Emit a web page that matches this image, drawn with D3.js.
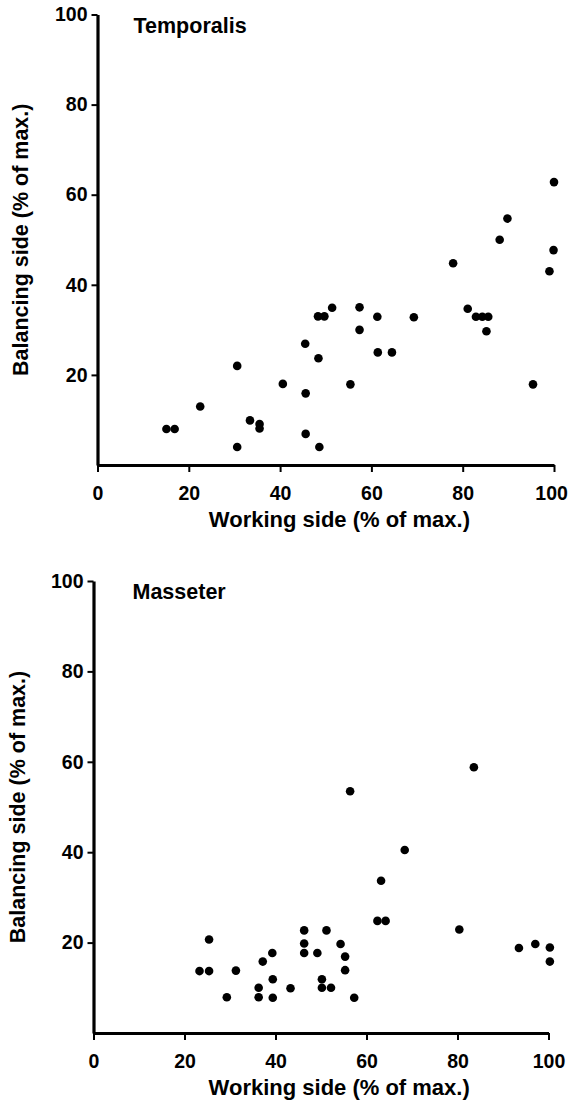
<!DOCTYPE html>
<html>
<head>
<meta charset="utf-8">
<script src="https://cdn.jsdelivr.net/npm/d3@7"></script>
<style>
  html, body { margin: 0; padding: 0; background: #fff; }
  svg text { font-family: 'Liberation Sans', Arial, sans-serif; font-weight: bold; fill: #000; }
</style>
</head>
<body>
<div id="chart"></div>
<script>
// values (% of max.)
const temporalisWorking = [15.1, 16.9, 22.5, 30.6, 30.6, 33.4, 35.5, 35.5, 40.6, 45.5, 45.6, 45.6,
  48.4, 48.6, 48.3, 49.7, 51.4, 55.4, 57.4, 57.4, 61.3, 61.4, 64.5, 69.3, 77.9, 81.1, 82.9, 84.3,
  85.6, 85.2, 88.1, 89.8, 95.4, 99.0, 99.9, 100.0]
const temporalisBalancing = [8.0, 8.0, 13.0, 22.0, 4.0, 9.9, 9.1, 8.1, 18.0, 26.9, 15.9, 6.9,
  23.7, 4.0, 33.0, 33.0, 34.9, 17.9, 35.0, 30.0, 32.9, 25.0, 25.0, 32.8, 44.8, 34.7, 32.9, 32.9,
  32.9, 29.7, 50.0, 54.7, 17.9, 43.0, 47.7, 62.8]

const masseterWorking = [23.3, 25.4, 25.4, 29.3, 31.3, 36.3, 36.3, 37.2, 39.3, 39.4, 39.4, 43.3,
  46.3, 46.3, 46.3, 49.2, 50.2, 50.2, 52.2, 51.2, 54.3, 55.3, 55.3, 57.3, 56.4, 62.4, 64.2, 63.2,
  68.4, 80.4, 83.6, 93.5, 97.1, 100.3, 100.3]
const masseterBalancing = [13.7, 13.7, 20.7, 7.9, 13.8, 10.0, 7.9, 15.8, 17.7, 11.9, 7.8, 9.9,
  22.7, 19.8, 17.7, 17.7, 11.9, 10.0, 10.0, 22.7, 19.7, 16.9, 13.9, 7.8, 53.5, 24.8, 24.8, 33.7,
  40.5, 22.9, 58.8, 18.8, 19.7, 18.9, 15.8]

const xTicks = [0, 20, 40, 60, 80, 100]
const yTicks = [20, 40, 60, 80, 100]

const panels = [
  { title: 'Temporalis', xs: temporalisWorking, ys: temporalisBalancing,
    left: 97.5, right: 554, top: 14.5, bottom: 465, yLabelX: 20, titleDx: 36, xLabelAt: 53 },
  { title: 'Masseter', xs: masseterWorking, ys: masseterBalancing,
    left: 93.5, right: 548.5, top: 581, bottom: 1033, yLabelX: 17, titleDx: 39, xLabelAt: 54 }
]

const width = 569
const height = 1109

const svg = d3.select('#chart')
  .append('svg')
  .attr('width', width)
  .attr('height', height)

panels.forEach(p => {
  const x = d3.scaleLinear().domain([0, 100]).range([p.left, p.right])
  const y = d3.scaleLinear().domain([0, 100]).range([p.bottom, p.top])

  const g = svg.append('g')

  const xAxis = g.append('g')
    .attr('transform', `translate(0,${p.bottom})`)
    .call(d3.axisBottom(x).tickValues(xTicks).tickSize(7).tickPadding(14).tickSizeOuter(0))
  xAxis.select('.domain').attr('stroke-width', 3.2)
  xAxis.selectAll('.tick line').attr('stroke-width', 2)
  xAxis.selectAll('.tick text').style('font-size', '19.5px')

  // keep the last tick label inside the page, like the scan where it touches the edge
  xAxis.selectAll('.tick text').each(function () {
    const box = this.getBoundingClientRect()
    if (box.right > width - 1) d3.select(this).attr('dx', width - 1 - box.right)
  })

  const yAxis = g.append('g')
    .attr('transform', `translate(${p.left},0)`)
    .call(d3.axisLeft(y).tickValues(yTicks).tickSize(6).tickPadding(4).tickSizeOuter(0))
  yAxis.select('.domain').attr('stroke-width', 3.2)
  yAxis.selectAll('.tick line').attr('stroke-width', 2)
  yAxis.selectAll('.tick text').style('font-size', '19.5px')

  g.append('text')
    .attr('x', p.left + p.titleDx)
    .attr('y', p.top + 18)
    .style('font-size', '21.5px')
    .text(p.title)

  g.append('text')
    .attr('x', x(p.xLabelAt))
    .attr('y', p.bottom + 62)
    .attr('text-anchor', 'middle')
    .style('font-size', '22px')
    .text('Working side  (% of max.)')

  g.append('text')
    .attr('transform', `translate(${p.yLabelX},${(p.top + p.bottom) / 2}) rotate(-90)`)
    .attr('text-anchor', 'middle')
    .attr('dy', '0.35em')
    .style('font-size', '21.5px')
    .text('Balancing side (% of max.)')

  g.append('g')
    .selectAll('circle')
    .data(p.xs.map((v, i) => [v, p.ys[i]]))
    .join('circle')
    .attr('cx', d => x(d[0]))
    .attr('cy', d => y(d[1]))
    .attr('r', 4.3)
    .attr('fill', '#000')
})
</script>
</body>
</html>
